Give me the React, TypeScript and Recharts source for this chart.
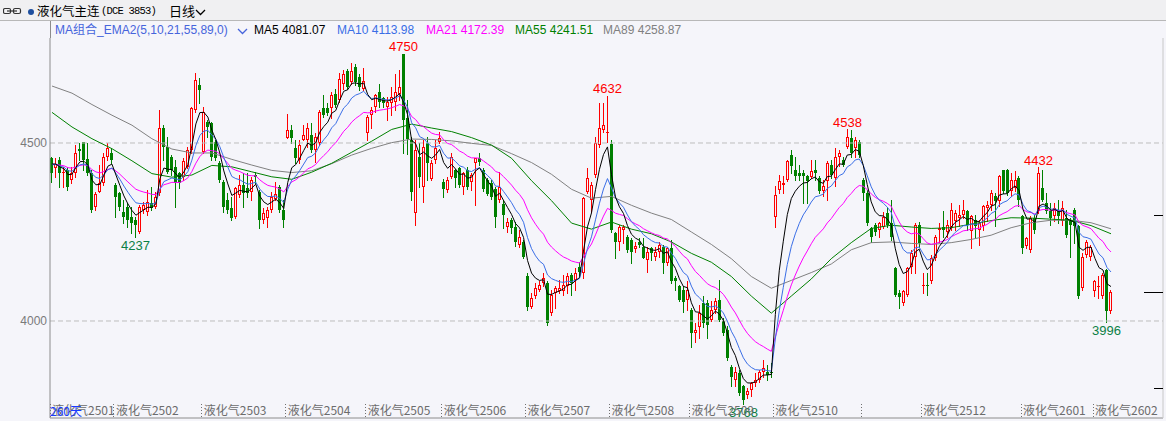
import React from 'react';
import { ComposedChart, Bar, Line, XAxis, YAxis, ReferenceLine } from 'recharts';

// ---------- data ----------
const opens = [
  4457,4429,4452,4415,4424,4396,4415,4482,4502,4454,
  4415,4321,4363,4387,4462,4471,4382,4359,4307,4321,
  4293,4284,4251,4312,4307,4331,4321,4359,4541,4490,
  4462,4433,4415,4405,4433,4480,4593,4663,4476,4560,
  4555,4504,4443,4391,4340,4317,4293,4354,4382,4373,
  4363,4410,4363,4284,4288,4312,4344,4377,4312,4513,
  4536,4485,4452,4508,4508,4522,4480,4499,4597,4597,
  4597,4639,4620,4667,4703,4672,4714,4686,4653,4527,
  4578,4602,4644,4625,4602,4611,4616,4639,4750,4570,
  4508,4302,4461,4377,4499,4400,4452,4503,4391,4368,
  4405,4424,4429,4377,4424,4391,4443,4457,4425,4396,
  4387,4372,4340,4330,4265,4283,4265,4214,4223,4125,
  4040,4069,4087,4106,4106,4022,4078,4083,4083,4097,
  4129,4115,4153,4134,4363,4340,4410,4494,4536,4527,
  4496,4246,4223,4256,4237,4228,4203,4223,4209,4171,
  4204,4181,4195,4209,4162,4204,4120,4097,4087,4059,
  4031,3966,3984,4050,4050,4003,4031,4059,3999,3975,
  3872,3835,3853,3816,3793,3807,3825,3835,3858,3858,
  3858,4293,4368,4382,4396,4467,4424,4415,4415,4406,
  4404,4424,4401,4364,4392,4438,4401,4462,4452,4490,
  4513,4485,4504,4396,4359,4261,4270,4256,4265,4303,
  4275,4148,4080,4050,4073,4153,4181,4270,4097,4101,
  4111,4177,4256,4265,4251,4265,4280,4289,4298,4308,
  4252,4284,4256,4266,4317,4326,4350,4336,4425,4424,
  4364,4373,4401,4294,4211,4200,4289,4308,4373,4331,
  4308,4294,4308,4280,4289,4284,4312,4266,4092,4186,
  4181,4083,4097,4069,4144,4027,
];
const highs = [
  4460,4457,4462,4433,4433,4433,4494,4501,4504,4499,
  4424,4363,4438,4471,4499,4485,4387,4363,4340,4331,
  4321,4293,4326,4335,4368,4377,4363,4593,4550,4518,
  4466,4452,4419,4457,4490,4602,4697,4682,4602,4565,
  4560,4508,4448,4396,4359,4349,4377,4410,4415,4415,
  4405,4419,4368,4317,4321,4363,4391,4382,4340,4581,
  4550,4508,4508,4550,4555,4555,4527,4592,4634,4611,
  4644,4653,4697,4705,4709,4725,4722,4695,4712,4578,
  4602,4639,4667,4630,4630,4658,4695,4705,4750,4620,
  4517,4508,4499,4508,4517,4452,4508,4531,4400,4405,
  4471,4428,4433,4419,4433,4415,4457,4471,4430,4401,
  4396,4377,4419,4340,4288,4288,4279,4256,4228,4134,
  4078,4106,4111,4134,4111,4087,4097,4115,4129,4134,
  4134,4148,4167,4349,4429,4391,4518,4611,4611,4632,
  4508,4251,4270,4270,4242,4232,4223,4232,4232,4209,
  4209,4209,4223,4214,4209,4228,4125,4101,4097,4111,
  4036,3994,4045,4069,4059,4055,4064,4115,4008,3985,
  3877,3872,3863,3821,3811,3830,3853,3863,3891,3877,
  3881,4378,4410,4406,4452,4481,4462,4438,4424,4410,
  4452,4452,4406,4396,4448,4452,4485,4481,4462,4538,
  4537,4518,4509,4401,4368,4265,4275,4279,4307,4321,
  4340,4153,4087,4087,4153,4200,4275,4277,4134,4134,
  4186,4242,4275,4308,4284,4331,4312,4326,4340,4312,
  4298,4298,4284,4326,4336,4368,4359,4411,4425,4428,
  4415,4420,4406,4298,4236,4294,4298,4432,4425,4359,
  4331,4331,4340,4336,4312,4289,4317,4270,4191,4228,
  4214,4116,4125,4134,4146,4088,
];
const lows = [
  4391,4405,4377,4377,4368,4387,4405,4452,4424,4410,
  4307,4312,4363,4382,4452,4443,4293,4312,4274,4265,
  4246,4237,4246,4302,4298,4312,4317,4354,4452,4415,
  4410,4321,4373,4396,4429,4471,4588,4611,4471,4518,
  4452,4452,4391,4307,4302,4284,4288,4349,4321,4349,
  4340,4387,4260,4274,4265,4307,4340,4307,4265,4513,
  4499,4443,4443,4508,4490,4475,4447,4494,4574,4578,
  4569,4602,4616,4653,4653,4667,4663,4649,4649,4508,
  4541,4588,4602,4602,4564,4578,4592,4620,4471,4470,
  4340,4269,4377,4335,4396,4396,4443,4499,4349,4363,
  4401,4377,4377,4358,4372,4368,4326,4438,4365,4354,
  4344,4265,4335,4260,4251,4246,4210,4209,4176,4031,
  4036,4064,4083,4097,3989,4017,4036,4078,4073,4078,
  4073,4087,4129,4120,4359,4307,4405,4490,4532,4504,
  4251,4176,4200,4218,4195,4162,4195,4209,4176,4139,
  4171,4171,4181,4134,4157,4106,4087,4055,4026,4031,
  3928,3942,3951,3984,3951,3999,4022,3999,3961,3891,
  3816,3816,3793,3768,3783,3788,3816,3830,3844,3835,
  3844,4265,4359,4359,4392,4415,4396,4396,4331,4331,
  4401,4396,4359,4350,4340,4401,4378,4434,4434,4485,
  4462,4462,4462,4340,4270,4223,4242,4237,4261,4265,
  4228,4069,4036,4045,4069,4134,4134,4209,4078,4073,
  4106,4172,4223,4237,4237,4256,4256,4266,4289,4256,
  4205,4233,4214,4256,4280,4312,4266,4322,4359,4354,
  4350,4364,4322,4191,4205,4195,4247,4303,4336,4303,
  4270,4280,4275,4270,4237,4181,4219,4064,4088,4181,
  4172,4069,4064,4064,3996,4022,
];
const closes = [
  4415,4441,4415,4419,4377,4415,4471,4478,4452,4415,
  4312,4356,4387,4462,4485,4452,4349,4321,4293,4284,
  4274,4270,4321,4326,4335,4317,4349,4541,4490,4419,
  4424,4387,4387,4448,4480,4597,4677,4649,4588,4546,
  4462,4457,4396,4321,4312,4288,4373,4382,4359,4359,
  4396,4405,4284,4302,4312,4349,4358,4312,4284,4536,
  4513,4457,4494,4522,4541,4480,4517,4588,4578,4583,
  4634,4606,4679,4695,4658,4703,4672,4658,4675,4572,
  4592,4634,4616,4611,4616,4630,4644,4658,4564,4510,
  4363,4480,4405,4489,4443,4443,4485,4513,4372,4396,
  4461,4401,4382,4415,4377,4410,4457,4447,4372,4358,
  4349,4293,4377,4298,4279,4260,4223,4237,4181,4040,
  4064,4092,4101,4120,3994,4073,4092,4092,4101,4125,
  4106,4134,4139,4345,4401,4382,4499,4541,4550,4532,
  4256,4223,4265,4265,4200,4195,4211,4214,4176,4195,
  4190,4195,4214,4162,4204,4111,4111,4059,4054,4087,
  3966,3975,4022,3994,3989,4031,4055,4003,3966,3896,
  3844,3858,3797,3779,3802,3825,3835,3858,3867,3849,
  3853,4354,4392,4387,4448,4434,4406,4406,4406,4392,
  4420,4415,4364,4378,4443,4410,4462,4473,4438,4518,
  4471,4509,4467,4359,4275,4237,4251,4275,4293,4270,
  4237,4073,4067,4083,4148,4190,4270,4218,4101,4097,
  4177,4237,4261,4256,4270,4312,4303,4298,4312,4270,
  4294,4266,4275,4322,4326,4359,4336,4406,4364,4359,
  4397,4397,4340,4205,4233,4289,4256,4415,4340,4308,
  4289,4317,4294,4317,4242,4270,4266,4069,4181,4223,
  4209,4111,4099,4130,4027,4081,
];

// MA55 / MA89 every 5 bars (bars 0,5,10,...,265)
const ma55Every5 = [
  4586,4545,4512,4484,4450,4414,4404,4410,4437,4433,
  4419,4405,4398,4418,4443,4474,4505,4538,4553,4542,
  4532,4515,4494,4457,4394,4338,4275,4258,4278,4258,
  4245,4222,4190,4165,4125,4070,4022,4070,4118,4175,
  4220,4260,4269,4264,4260,4262,4272,4282,4290,4289,
  4286,4283,4268,4245,
];
const ma89Every5 = [
  4660,4640,4608,4578,4550,4512,4483,4472,4472,4454,
  4438,4423,4417,4422,4442,4466,4485,4501,4511,4510,
  4506,4499,4493,4470,4445,4412,4370,4345,4350,4325,
  4303,4285,4250,4215,4175,4125,4092,4114,4136,4160,
  4200,4220,4222,4218,4215,4220,4229,4241,4262,4276,
  4283,4283,4276,4259,
];
// starting values (bar 0) of the short averages
const shortMaStart = { ma5: 4441, ma10: 4439, ma21: 4440 };

const contractTicks = [0, 16, 38, 59, 79, 98, 119, 140, 160, 181, 203, 218, 243, 261];
const contractLabels = ['液化气2501','液化气2502','液化气2503','液化气2504','液化气2505','液化气2506','液化气2507','液化气2508','液化气2509','液化气2510','','液化气2512','液化气2601','液化气2602'];

const highMarks = [88, 139, 199, 247];
const highMarkText = ['4750', '4632', '4538', '4432'];
const lowMarks = [21, 173, 264];
const lowMarkText = ['4237', '3768', '3996'];

const rightTicks = [3812, 4081, 4298];
const leftTicks = [4000, 4500];
const Y_DOMAIN = [3727.5, 4794.9];

const legendItems = [
  { name: 'MA5', value: '4081.07', color: '#000000', left: 254 },
  { name: 'MA10', value: '4113.98', color: '#3a6ee6', left: 337 },
  { name: 'MA21', value: '4172.39', color: '#ff00ff', left: 426 },
  { name: 'MA55', value: '4241.51', color: '#008000', left: 515 },
  { name: 'MA89', value: '4258.87', color: '#808080', left: 603 },
];

// ---------- styles ----------
const BG = '#f5f5fa';
const RED = '#ff0000';
const GREEN = '#008000';
const LOWTXT = '#0b7f45';
const FONT = '"Liberation Sans", "Noto Sans CJK SC", sans-serif';
const CJK = '"Noto Sans CJK SC", "Liberation Sans", sans-serif';

function ema(values: number[], period: number, start: number) {
  const a = 2 / (period + 1);
  let e = start;
  return values.map((v, i) => {
    if (i > 0) e = e + a * (v - e);
    return e;
  });
}

const ma5 = ema(closes, 5, shortMaStart.ma5);
const ma10 = ema(closes, 10, shortMaStart.ma10);
const ma21 = ema(closes, 21, shortMaStart.ma21);

const data = closes.map((c, i) => ({
  idx: i,
  open: opens[i],
  high: highs[i],
  low: lows[i],
  close: c,
  range: [lows[i], highs[i]],
  ma5: ma5[i],
  ma10: ma10[i],
  ma21: ma21[i],
  ma55: i % 5 === 0 ? ma55Every5[i / 5] : null,
  ma89: i % 5 === 0 ? ma89Every5[i / 5] : null,
  hi: highMarks.indexOf(i),
  lo: lowMarks.indexOf(i),
}));

function Candle(props: any) {
  const { x, y, width, height, payload } = props;
  if (!payload || x == null || y == null) return null;
  const top = Math.min(y, y + height);
  const bot = Math.max(y, y + height);
  const { open, close, high, low } = payload;
  const span = high - low || 1;
  const py = (v: number) => top + ((high - v) / span) * (bot - top);
  const cx = Math.floor(x + width / 2 + 0.01) + 0.5;
  const up = close >= open;
  const color = up ? RED : GREEN;
  const yHigh = Math.round(py(high));
  const yLow = Math.round(py(low));
  const yTop = Math.round(py(Math.max(open, close)));
  const yBot = Math.round(py(Math.min(open, close)));
  return (
    <g>
      <line x1={cx} x2={cx} y1={yHigh} y2={yLow + 1} stroke={color} strokeWidth={1} />
      {yBot - yTop < 2 ? (
        <line x1={cx - 1.5} x2={cx + 1.5} y1={yTop + 0.5} y2={yTop + 0.5} stroke={color} strokeWidth={1} />
      ) : up ? (
        <rect x={cx - 1} y={yTop + 0.5} width={2} height={yBot - yTop - 1} fill={BG} stroke={color} strokeWidth={1} />
      ) : (
        <rect x={cx - 1.5} y={yTop} width={3} height={yBot - yTop} fill={color} />
      )}
      {payload.hi >= 0 && (
        <text x={cx} y={py(high) - 2.5} textAnchor="middle" fill={RED} fontSize={13} fontFamily={FONT}>
          {highMarkText[payload.hi]}
        </text>
      )}
      {payload.lo >= 0 && (
        <text x={cx} y={py(low) + 13} textAnchor="middle" fill={LOWTXT} fontSize={13} fontFamily={FONT}>
          {lowMarkText[payload.lo]}
        </text>
      )}
    </g>
  );
}

function XTick(props: any) {
  const { x, payload } = props;
  const k = contractTicks.indexOf(Number(payload && payload.value));
  const label = k >= 0 ? contractLabels[k] : '';
  const lx = Math.floor(x - 2 + 0.01) + 0.5;
  const by = 418;
  return (
    <g>
      <line x1={lx} x2={lx} y1={by - 14} y2={by} stroke="#707070" strokeDasharray="1 2" />
      {label && (
        <text x={x} y={by - 3} fill="#6c6c6c" fontSize={12} fontFamily={CJK}>
          {label}
        </text>
      )}
    </g>
  );
}

function RightTick(props: any) {
  const { x, y, payload } = props;
  const len = payload.value === 4081 ? 19 : 9;
  const yy = Math.round(y) + 0.5;
  return <line x1={x - len} x2={x} y1={yy} y2={yy} stroke="#000" strokeWidth={1} />;
}

function Chevron({ left, top, color }: { left: number; top: number; color: string }) {
  return (
    <svg style={{ position: 'absolute', left, top }} width={11} height={7}>
      <polyline points="1,1 5.5,5.5 10,1" fill="none" stroke={color} strokeWidth={1.3} />
    </svg>
  );
}

export default function App() {
  return (
    <div style={{ position: 'fixed', left: 0, top: 0, width: 1166, height: 421, overflow: 'hidden', background: BG, fontFamily: FONT }}>
      <div style={{ position: 'absolute', left: 0, top: 0 }}>
        <ComposedChart width={1166} height={421} data={data} margin={{ top: 38, right: 2, bottom: 2, left: 0 }}>
          <XAxis
            dataKey="idx"
            type="category"
            ticks={contractTicks}
            interval={0}
            height={1}
            tickSize={0}
            tickMargin={0}
            tickLine={false}
            axisLine={{ stroke: '#8c8c8c' }}
            padding={{ left: 0, right: 50 }}
            tick={(p: any) => <XTick {...p} />}
          />
          <YAxis
            yAxisId="left"
            orientation="left"
            type="number"
            width={50}
            domain={Y_DOMAIN}
            allowDataOverflow
            ticks={leftTicks}
            tickSize={0}
            tickMargin={3}
            tickLine={false}
            axisLine={{ stroke: '#8c8c8c' }}
            tick={{ fill: '#7a7a7a', fontSize: 12, fontFamily: FONT }}
          />
          <YAxis
            yAxisId="right"
            orientation="right"
            type="number"
            width={1}
            domain={Y_DOMAIN}
            allowDataOverflow
            ticks={rightTicks}
            tickSize={0}
            tickMargin={0}
            tickLine={false}
            axisLine={{ stroke: '#c8c8c8' }}
            tick={(p: any) => <RightTick {...p} />}
          />
          <ReferenceLine yAxisId="left" y={4500} stroke="#bdbdbd" strokeDasharray="5 3" />
          <ReferenceLine yAxisId="left" y={4000} stroke="#bdbdbd" strokeDasharray="5 3" />
          <Bar yAxisId="left" dataKey="range" shape={<Candle />} isAnimationActive={false} />
          <Line yAxisId="left" dataKey="ma89" stroke="#808080" strokeWidth={1} dot={false} connectNulls type="linear" isAnimationActive={false} />
          <Line yAxisId="left" dataKey="ma55" stroke="#008000" strokeWidth={1} dot={false} connectNulls type="linear" isAnimationActive={false} />
          <Line yAxisId="left" dataKey="ma21" stroke="#ff00ff" strokeWidth={1} dot={false} type="linear" isAnimationActive={false} />
          <Line yAxisId="left" dataKey="ma10" stroke="#3a6ee6" strokeWidth={1} dot={false} type="linear" isAnimationActive={false} />
          <Line yAxisId="left" dataKey="ma5" stroke="#000000" strokeWidth={1} dot={false} type="linear" isAnimationActive={false} />
        </ComposedChart>
      </div>

      {/* header strip */}
      <div style={{ position: 'absolute', left: 0, top: 0, width: 1166, height: 20, background: '#f0f0f2', borderBottom: '1px solid #b8b8b8' }} />
      <svg style={{ position: 'absolute', left: 3, top: 7 }} width={19} height={9}>
        <rect x={0.5} y={1.5} width={7} height={5} rx={1.5} fill="none" stroke="#333" strokeWidth={1.2} />
        <rect x={10.5} y={1.5} width={7} height={5} rx={1.5} fill="none" stroke="#333" strokeWidth={1.2} />
        <line x1={4} x2={14} y1={4} y2={4} stroke="#333" strokeWidth={1.2} />
      </svg>
      <div style={{ position: 'absolute', left: 28, top: 9, width: 6, height: 6, borderRadius: 3, background: '#1d4e9e' }} />
      <div style={{ position: 'absolute', left: 37, top: 2, fontSize: 12.5, lineHeight: '18px', fontFamily: CJK, color: '#000', whiteSpace: 'nowrap' }}>
        液化气主连
      </div>
      <div style={{ position: 'absolute', left: 101, top: 3, fontSize: 10.5, letterSpacing: -0.8, lineHeight: '17px', fontFamily: '"Liberation Mono", "DejaVu Sans Mono", monospace', color: '#000', whiteSpace: 'nowrap' }}>
        (DCE 3853)
      </div>
      <div style={{ position: 'absolute', left: 169, top: 2, fontSize: 13, lineHeight: '18px', fontFamily: CJK, color: '#000', whiteSpace: 'nowrap' }}>
        日线
      </div>
      <Chevron left={195} top={9} color="#000" />

      {/* legend row */}
      <div style={{ position: 'absolute', left: 50, top: 21, width: 1, height: 17, background: '#8c8c8c' }} />
      <div style={{ position: 'absolute', left: 55, top: 22, fontSize: 12, lineHeight: '16px', color: '#4664dc', whiteSpace: 'nowrap', fontFamily: FONT }}>
        MA组合_EMA2(5,10,21,55,89,0)
      </div>
      <Chevron left={237} top={28} color="#4664dc" />
      {legendItems.map((it) => (
        <div key={it.name} style={{ position: 'absolute', left: it.left, top: 22, fontSize: 12, lineHeight: '16px', color: it.color, whiteSpace: 'nowrap', fontFamily: FONT }}>
          {it.name} {it.value}
        </div>
      ))}

      {/* bottom-left day count */}
      <div style={{ position: 'absolute', left: 50, top: 403, fontSize: 12, lineHeight: '16px', color: '#1a3cff', whiteSpace: 'nowrap', fontFamily: CJK }}>
        260天
      </div>
    </div>
  );
}
